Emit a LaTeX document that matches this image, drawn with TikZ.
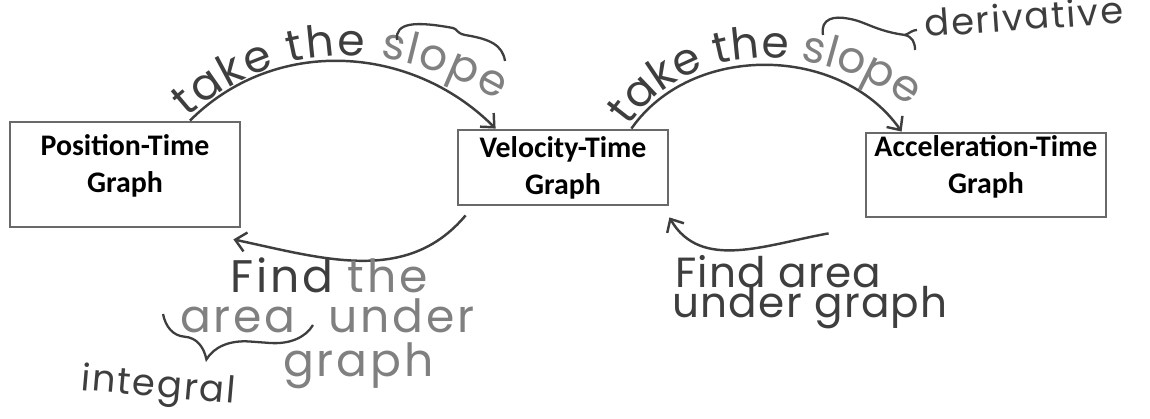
\documentclass[tikz,border=0pt]{standalone}
\usepackage{fontspec}
\setmainfont{Carlito}
\newfontfamily\handfont{Poppins}
\usetikzlibrary{
    positioning,                      % right=of, below=of, etc.
    arrows.meta,                      % puntas modernas (Straight Barb)
    calc,                             % aritmetica de coordenadas
    decorations.text,                 % texto a lo largo de un camino
    decorations.pathreplacing         % llaves
}
\definecolor{ink}{RGB}{62,62,62}
\definecolor{ink_light}{RGB}{128,128,128}
\definecolor{box_line}{RGB}{105,105,105}
\newcommand{\arcsize}{\handfont\fontsize{25}{27}\selectfont}
% texto del recuadro subido sin cambiar el tamano del nodo
\newcommand{\liftedtext}[2]{\raisebox{#1}[\height][\depth]{\begin{tabular}{@{}c@{}}#2\end{tabular}}}
\tikzset{
    graphbox/.style={
        rectangle, draw=box_line, line width=1.6pt,
        align=center, font=\bfseries\fontsize{17}{21}\selectfont,
        inner xsep=3pt, inner ysep=1pt
    },
    arrow/.style={
        -{Straight Barb[length=6pt,width=11pt]}, draw=ink, line width=1.4pt
    },
    hand/.style={
        text=ink, inner sep=0pt, anchor=base west
    },
    handbig/.style={
        hand, font=\handfont\addfontfeature{LetterSpace=6}\fontsize{26}{28}\selectfont
    },
    handmid/.style={
        hand, font=\handfont\addfontfeature{LetterSpace=3}\fontsize{24}{26}\selectfont
    },
    handsmall/.style={
        hand, font=\handfont\addfontfeature{LetterSpace=5}\fontsize{21}{23}\selectfont
    },
    curly/.style={
        draw=ink, line width=1.3pt
    },
    slopetext/.style={
        decorate,
        decoration={text along path, text align={fit to path}, raise=2pt,
            text={|\arcsize\color{ink}|take the |\arcsize\color{ink_light}|slope}}
    }
}

\begin{document}
\begin{tikzpicture}
    \useasboundingbox (0,0) rectangle (23,-8.38);
    \node[graphbox, minimum width=4.6cm, minimum height=2.1cm] (pos) at (2.5,-3.49)
        {\liftedtext{0.16cm}{Position-Time\\Graph}};
    \node[graphbox, minimum width=4.2cm, minimum height=1.5cm] (vel) at (11.26,-3.35)
        {Velocity-Time\\Graph};
    \node[graphbox, minimum width=4.8cm, minimum height=1.68cm] (acc) at (19.72,-3.5)
        {\liftedtext{0.14cm}{Acceleration-Time\\Graph}};

    \draw[arrow] ([xshift=1.3cm]pos.north) to[out=45, in=135] ([xshift=0.78cm]vel.north west);
    \path[slopetext] ([xshift=1.3cm]pos.north) to[out=42, in=150]
        ([xshift=0.8cm, yshift=0.5cm]vel.north west);
    \draw[arrow] ([xshift=-0.76cm]vel.north east) to[out=55, in=125] ([xshift=0.74cm]acc.north west);
    \path[slopetext] ([xshift=-0.76cm]vel.north east) to[out=55, in=145]
        ([xshift=0.8cm, yshift=0.5cm]acc.north west);

    \draw[arrow] ([xshift=0.18cm, yshift=-0.18cm]vel.south west) to[out=-130, in=-12]
        ([xshift=-0.16cm, yshift=-0.22cm]pos.south east);
    \draw[arrow] ([xshift=-0.72cm, yshift=-0.3cm]acc.south west) to[out=-170, in=-60]
        ([yshift=-0.22cm]vel.south east);

    \draw[curly] (7.94,-0.8) .. controls (7.9,-0.45) and (8.3,-0.42) .. (9.06,-0.56)
        .. controls (9.15,-0.58) and (9.12,-0.66) .. (9.3,-0.7)
        .. controls (9.8,-0.78) and (10.05,-0.9) .. (10.1,-1.22);
    \draw[curly] (16.46,-0.7) .. controls (16.4,-0.36) and (16.7,-0.32) .. (16.95,-0.37)
        .. controls (17.3,-0.42) and (17.5,-0.62) .. (18.1,-0.7)
        .. controls (18.2,-0.66) and (18.25,-0.6) .. (18.34,-0.6);
    \draw[curly] (18.1,-0.7) .. controls (18.25,-0.74) and (18.3,-0.85) .. (18.3,-1.0);
    \draw[curly, decorate, decoration={brace, amplitude=24pt, aspect=0.69}]
        (6.26,-6.5) -- (3.26,-6.28);

    \node[handsmall, rotate=4] (deriv) at (18.5,-0.74) {derivative};
    \node[handbig] (findthe) at (4.6,-5.86) {Find \textcolor{ink_light}{the}};
    \node[handbig, text=ink_light] (under) at (3.6,-6.66) {area\hspace{0.4em} under};
    \node[handbig, text=ink_light] (graph) at (5.66,-7.54) {graph};
    \node[handsmall, rotate=-5] (integral) at (1.6,-7.8) {integral};
    \node[handmid] (findarea) at (13.5,-5.76) {Find area};
    \node[handmid] (undergraph) at (13.44,-6.36) {under graph};
\end{tikzpicture}
\end{document}
